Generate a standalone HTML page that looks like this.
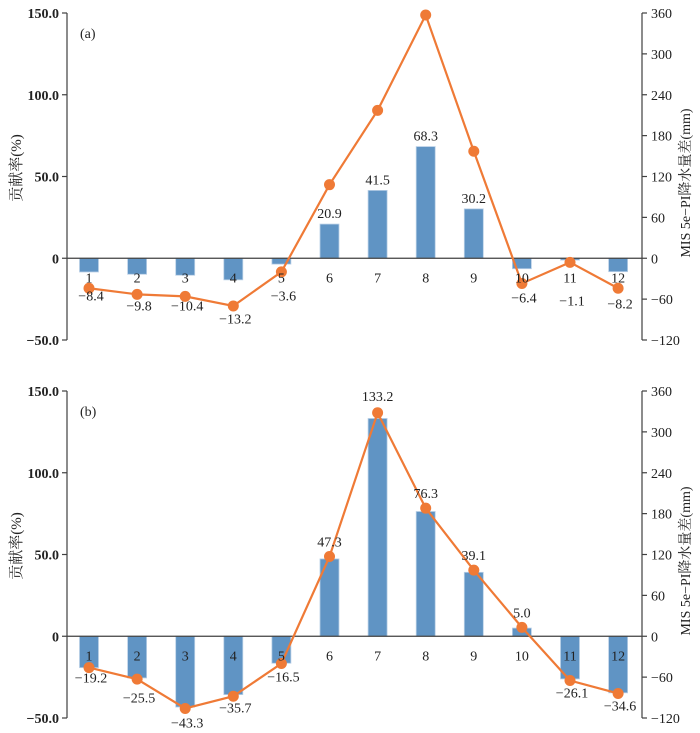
<!DOCTYPE html>
<html><head><meta charset="utf-8">
<style>
html,body{margin:0;padding:0;background:#fff;}
svg{display:block;font-family:"Liberation Serif","Noto Serif CJK SC",serif;}
</style></head>
<body>
<svg id="chart" width="700" height="733" viewBox="0 0 700 733"></svg>
<script>
const months = ["1","2","3","4","5","6","7","8","9","10","11","12"];
const contribA = [-8.4,-9.8,-10.4,-13.2,-3.6,20.9,41.5,68.3,30.2,-6.4,-1.1,-8.2];
const precipA = [-44,-53,-56,-70,-20,108,217,357,157,-37,-6,-44];
const contribB = [-19.2,-25.5,-43.3,-35.7,-16.5,47.3,133.2,76.3,39.1,5.0,-26.1,-34.6];
const precipB = [-46,-63,-106,-88,-40,117,328,188,97,13,-65,-84];
const leftTicks = [150,100,50,0,-50];
const leftTickLabels = ["150.0","100.0","50.0","0","\u221250.0"];
const rightTicks = [360,300,240,180,120,60,0,-60,-120];
const rightTickLabels = ["360","300","240","180","120","60","0","\u221260","\u2212120"];
const labelDyA = [42,52,52,65,42,0,0,0,0,44,47,50];
const labelDyB = [46,66,91,76,45,0,0,0,0,0,61,74];

const NS="http://www.w3.org/2000/svg";
const svg=document.getElementById('chart');
function mk(tag,attrs,parent){const e=document.createElementNS(NS,tag);for(const k in attrs)e.setAttribute(k,attrs[k]);(parent||svg).appendChild(e);return e;}
function fmt(v){const s=Math.abs(v).toFixed(1);return v<0?"\u2212"+s:s;}

function panel(top,tag,contrib,precip,dys,labelMode){
  const g=mk('g',{});
  
  
  const axL=67, axR=642;
  const yTop=top, yBot=top+327;
  const yL=v=>yTop+(150-v)/200*327;
  const yR=v=>yTop+(360-v)/480*327;
  const xM=i=>89+i*48.1;
  const y0=yL(0);
  contrib.forEach((v,i)=>{
    const y=yL(v);
    const r=mk('rect',{x:xM(i)-9.5,y:Math.min(y,y0),width:19,height:Math.abs(y-y0),fill:'#6094c4',stroke:'#b9cfe6','stroke-width':0.8},g);
    
    
  });
  const z=mk('line',{x1:axL,x2:axR,y1:y0,y2:y0,stroke:'#404040','stroke-width':1.2},g);
  
  
  const la=mk('line',{x1:axL,x2:axL,y1:yTop,y2:yBot,stroke:'#404040','stroke-width':1.2},g);
  
  
  const ra=mk('line',{x1:axR,x2:axR,y1:yTop,y2:yBot,stroke:'#404040','stroke-width':1.2},g);
  
  
  leftTicks.forEach((v,i)=>{
    const y=yL(v);
    mk('line',{x1:axL-5,x2:axL,y1:y,y2:y,stroke:'#404040','stroke-width':1.2},g);
    const t=mk('text',{x:axL-8,y:y+5,'text-anchor':'end','font-size':14,'font-weight':'bold',fill:'#222'},g);
    t.textContent=leftTickLabels[i];
    
    
  });
  rightTicks.forEach((v,i)=>{
    const y=yR(v);
    mk('line',{x1:axR,x2:axR+5,y1:y,y2:y,stroke:'#404040','stroke-width':1.2},g);
    const t=mk('text',{x:axR+9,y:y+5,'text-anchor':'start','font-size':14,fill:'#222'},g);
    t.textContent=rightTickLabels[i];
    
    
  });
  const pts=precip.map((v,i)=>xM(i)+','+yR(v)).join(' ');
  const pl=mk('polyline',{points:pts,fill:'none',stroke:'#ef7a36','stroke-width':2.2},g);
  
  
  precip.forEach((v,i)=>{
    const c=mk('circle',{cx:xM(i),cy:yR(v),r:5.5,fill:'#ef7a36'},g);
    
    
  });
  months.forEach((m,i)=>{
    const t=mk('text',{x:xM(i),y:y0+24,'text-anchor':'middle','font-size':14,fill:'#222'},g);
    t.textContent=m;
    
    
  });
  contrib.forEach((v,i)=>{
    let ly;
    if(v>=0){
      ly = labelMode==='b' && i===6 ? yR(precip[i])-12 : yL(v)-6;
      if(labelMode==='b' && i!==6) ly=Math.min(yL(v),yR(precip[i]))-10;
    } else {
      ly=y0+dys[i];
    }
    const t=mk('text',{x:xM(i)+(v<0?2:0),y:ly,'text-anchor':'middle','font-size':14,fill:'#222'},g);
    t.textContent=fmt(v);
    
    
  });
  const pt=mk('text',{x:80,y:top+25,'font-size':14,fill:'#222'},g);
  pt.textContent='('+tag+')';
  
  
  const lt=mk('text',{x:0,y:0,transform:'translate(21,'+(top+155)+') rotate(-90)','text-anchor':'middle','font-size':15,fill:'#222'},g);
  lt.textContent='贡献率(%)';
  
  
  const rt=mk('text',{x:0,y:0,transform:'translate(690,'+(top+170)+') rotate(-90)','text-anchor':'middle','font-size':14,fill:'#222'},g);
  rt.textContent='MIS 5e\u2212PI降水量差(mm)';
  
  
}
panel(13,'a',contribA,precipA,labelDyA,'a');
panel(391,'b',contribB,precipB,labelDyB,'b');
</script>
</body></html>
